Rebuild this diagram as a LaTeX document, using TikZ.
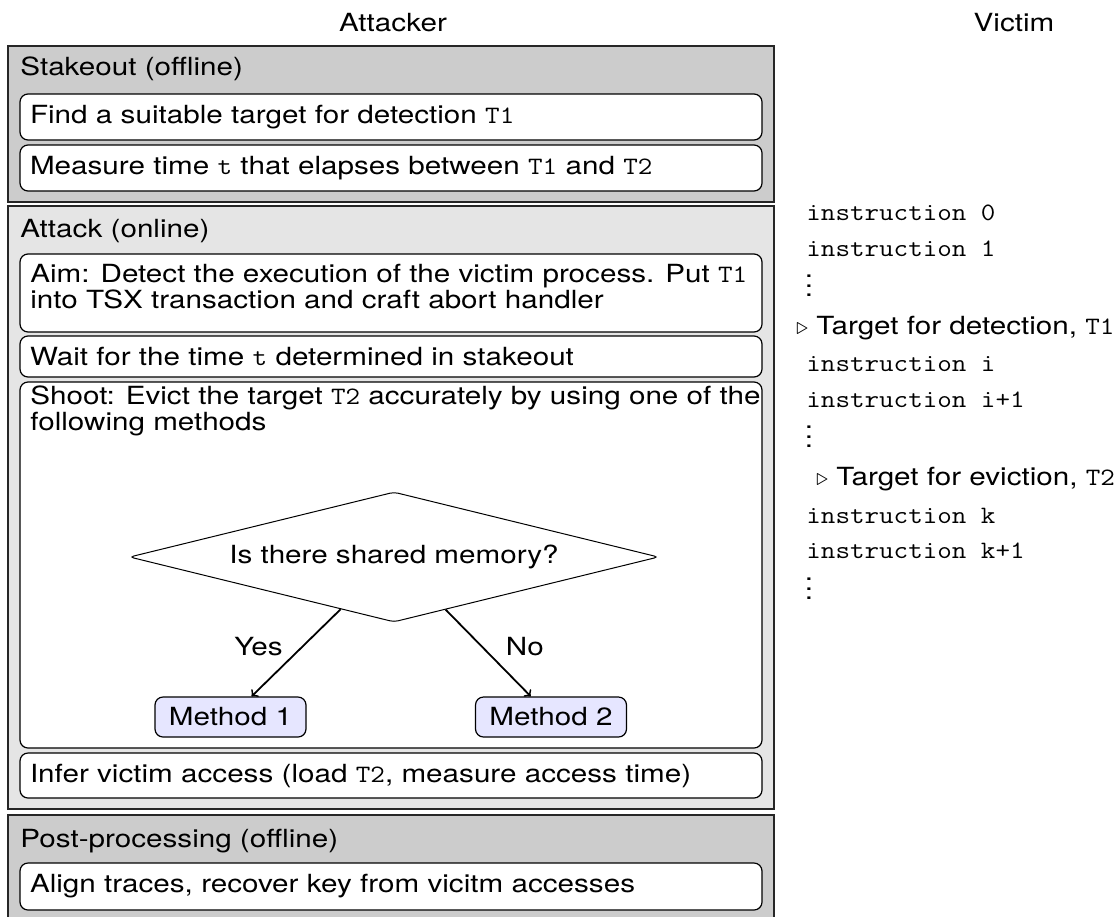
\documentclass[tikz,border=0pt]{standalone}
\usepackage{fontspec}
\setmainfont[FakeStretch=1.185]{TeX Gyre Heros}
\setmonofont[FakeStretch=1.13]{Latin Modern Mono}
\usetikzlibrary{shapes.geometric}
\definecolor{groupdark}{HTML}{CCCCCC}
\definecolor{grouplight}{HTML}{E5E5E5}
\definecolor{methodfill}{HTML}{E6E6FF}
\newcommand\mydots{\vbox{\baselineskip=4.8pt\lineskiplimit=0pt\hbox{.}\hbox{.}\hbox{.}}}
\begin{document}
\begin{tikzpicture}[x=0.5pt,y=-0.5pt,
  every node/.style={font=\fontsize{12.5}{13}\selectfont},
  group/.style={draw=black!85, line width=0.8pt, minimum width=383pt, inner sep=0},
  stepbox/.style={draw, fill=white, rounded corners=4pt, minimum width=371pt, text width=361pt, inner xsep=5pt, inner ysep=0, align=left, line width=0.6pt},
  txt/.style={inner sep=0, anchor=base west},
  vic/.style={inner sep=0, anchor=base west, font=\fontsize{12.5}{13}\selectfont\ttfamily},
  dotsnode/.style={inner sep=0},
  method/.style={draw, fill=methodfill, rounded corners=4pt, minimum width=75.5pt, minimum height=20pt, inner sep=0, line width=0.6pt},
  decision/.style={diamond, draw, fill=white, rounded corners=2pt, aspect=4, minimum width=264.5pt, minimum height=65pt, inner sep=0, line width=0.5pt},
  flow/.style={->, line width=0.9pt}]
\useasboundingbox (0,0) rectangle (1117,916);

% titles
\node[inner sep=0, anchor=base] (attacker) at (393,31) {Attacker};
\node[inner sep=0, anchor=base] (victim) at (1014,31) {Victim};

% stakeout
\node[group, fill=groupdark, minimum height=78pt] (stakeout) at (391,124) {};
\node[txt] (stakeouthead) at (20,75) {Stakeout (offline)};
\node[stepbox, minimum height=23pt] (find) at (391,117) {Find a suitable target for detection \texttt{T1}};
\node[stepbox, minimum height=23pt] (measure) at (391,168) {Measure time \texttt{t} that elapses between \texttt{T1} and \texttt{T2}};

% attack
\node[group, fill=grouplight, minimum height=301.5pt] (attack) at (391,507.5) {};
\node[txt] (attackhead) at (20,237) {Attack (online)};
\node[stepbox, minimum height=39pt] (aim) at (391,293) {};
\node[txt] (aimline1) at (30,282) {Aim: Detect the execution of the victim process. Put \texttt{T1}};
\node[txt] (aimline2) at (30,308) {into TSX transaction and craft abort handler};
\node[stepbox, minimum height=20.5pt] (wait) at (391,356.5) {Wait for the time \texttt{t} determined in stakeout};
\node[stepbox, minimum height=183pt] (shoot) at (391,565) {};
\node[txt] (shootline1) at (30,404) {Shoot: Evict the target \texttt{T2} accurately by using one of the};
\node[txt] (shootline2) at (30,430) {following methods};
\node[decision] (question) at (394,557) {Is there shared memory?};
\node[method] (m1) at (230.5,717) {Method 1};
\node[method] (m2) at (551,717) {Method 2};
\draw[flow] (question) -- (m1) node[pos=0.43, left=6pt] (yes) {Yes};
\draw[flow] (question) -- (m2) node[pos=0.43, right=8pt] (no) {No};
\node[stepbox, minimum height=22.5pt] (infer) at (391,775.5) {Infer victim access (load \texttt{T2}, measure access time)};

% post-processing
\node[group, fill=groupdark, minimum height=52.5pt] (post) at (391,867.5) {};
\node[txt] (posthead) at (20,847) {Post-processing (offline)};
\node[stepbox, minimum height=23.5pt] (alignbox) at (391,886.5) {Align traces, recover key from vicitm accesses};

% victim
\node[vic] (i0) at (806,220) {instruction 0};
\node[vic] (i1) at (806,256) {instruction 1};
\node[dotsnode] (d1) at (809,286) {\mydots};
\node[txt] (t1) at (796,334) {$\triangleright$ Target for detection, \texttt{T1}};
\node[vic] (ii) at (806,371) {instruction i};
\node[vic] (ii1) at (806,407) {instruction i+1};
\node[dotsnode] (d2) at (809,437) {\mydots};
\node[txt] (t2) at (816,485) {$\triangleright$ Target for eviction, \texttt{T2}};
\node[vic] (ik) at (806,523) {instruction k};
\node[vic] (ik1) at (806,558) {instruction k+1};
\node[dotsnode] (d3) at (809,589) {\mydots};
\end{tikzpicture}
\end{document}
